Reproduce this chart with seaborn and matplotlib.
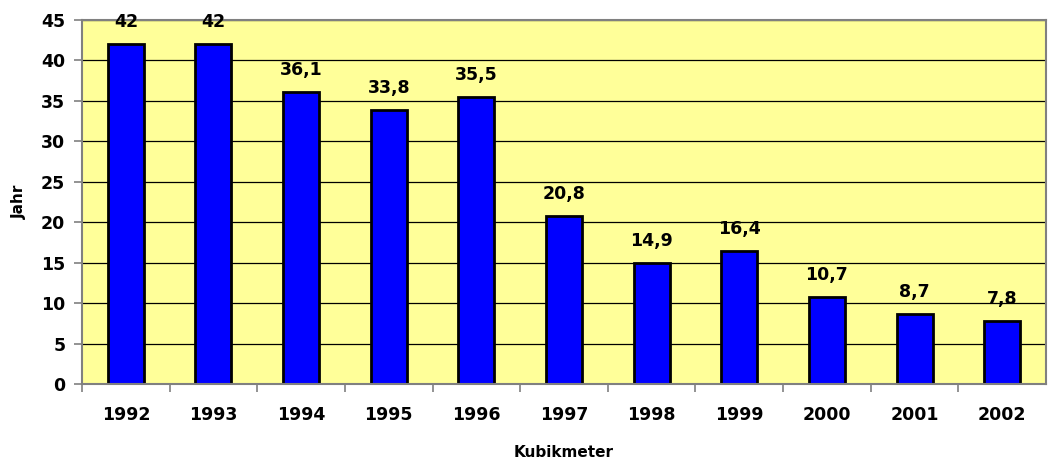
import pandas as pd
import matplotlib
matplotlib.use("Agg")
import matplotlib.pyplot as plt
import seaborn as sns

# Data
years = ["1992", "1993", "1994", "1995", "1996", "1997", "1998", "1999", "2000", "2001", "2002"]
values = [42, 42, 36.1, 33.8, 35.5, 20.8, 14.9, 16.4, 10.7, 8.7, 7.8]

data = pd.DataFrame({"Jahr": years, "Wert": values})

sns.set_style("white")
plt.rcParams["font.family"] = ["DejaVu Sans"]
plt.rcParams["text.color"] = "black"
plt.rcParams["axes.labelcolor"] = "black"
plt.rcParams["xtick.color"] = "black"
plt.rcParams["ytick.color"] = "black"

fig = plt.figure(figsize=(10.54, 4.61), dpi=100)
ax = fig.add_axes([0.0778, 0.167, 0.9146, 0.79])
ax.set_facecolor("#FFFF99")

sns.barplot(x="Jahr", y="Wert", data=data, color="#0000FF", edgecolor="black",
            linewidth=2, width=0.41, saturation=1, ax=ax)

ax.set_ylim(0, 45)
ax.set_xlim(-0.5, len(years) - 0.5)
ax.set_yticks(range(0, 46, 5))
ax.yaxis.grid(True, color="black", linewidth=0.9)
ax.set_axisbelow(True)

# data labels
for i, v in enumerate(values):
    txt = f"{v:g}".replace(".", ",")
    ax.annotate(txt, (i, v), xytext=(0, 13), textcoords="offset pixels",
                ha="center", va="bottom", fontsize=12.5, fontweight="bold",
                color="black", annotation_clip=False)

# ticks
ax.set_xticks([i - 0.5 for i in range(len(years))], minor=True)
ax.tick_params(axis="x", which="major", bottom=True, length=0, pad=16,
               labelsize=12.5, labelcolor="black")
ax.tick_params(axis="x", which="minor", bottom=True, length=6, width=1.2,
               color="#808080", direction="out")
ax.tick_params(axis="y", left=True, length=6, width=1.2, color="#808080",
               direction="out", labelsize=12.5, labelcolor="black", pad=6)
for lab in ax.get_xticklabels() + ax.get_yticklabels():
    lab.set_fontweight("bold")

for s in ax.spines.values():
    s.set_color("#808080")
    s.set_linewidth(1.5)
    s.set_visible(True)

ax.set_xlabel("Kubikmeter", fontsize=11, fontweight="bold", labelpad=15, color="black")
ax.set_ylabel("Jahr", fontsize=11, fontweight="bold", labelpad=10, color="black")

plt.savefig("out.png", dpi=100)
